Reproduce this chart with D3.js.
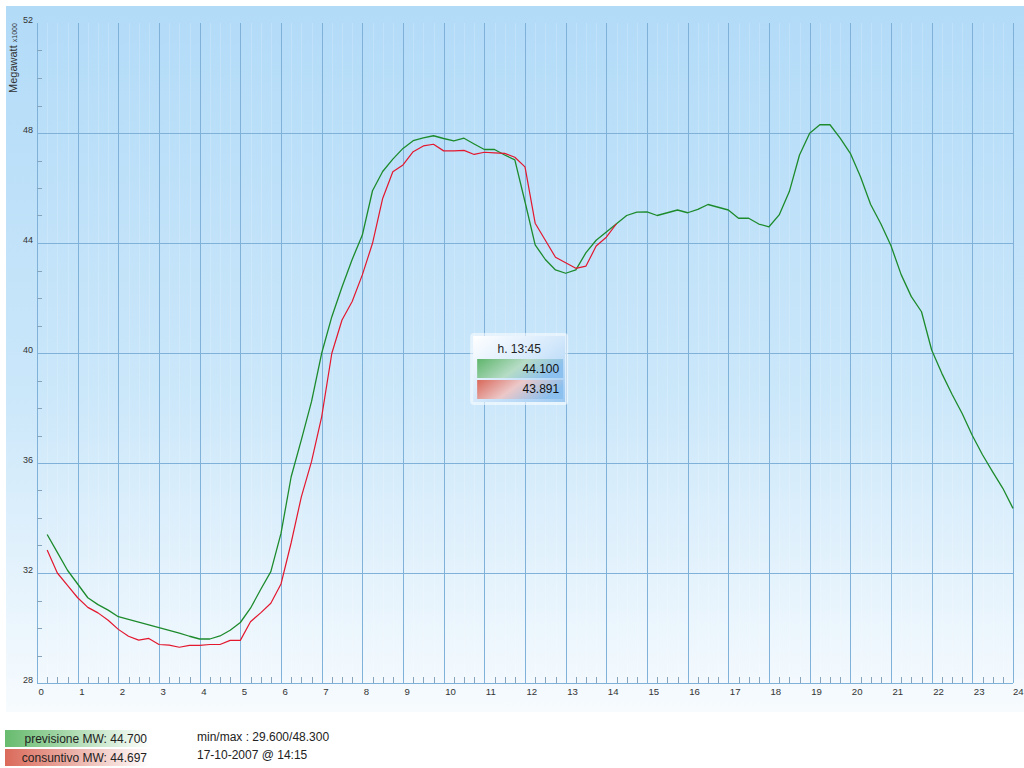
<!DOCTYPE html>
<html>
<head>
<meta charset="utf-8">
<script src="https://cdn.jsdelivr.net/npm/d3@7"></script>
<style>
html,body{margin:0;padding:0;background:#fff;}
svg{display:block;font-family:"Liberation Sans",Arial,Helvetica,sans-serif;}
</style>
</head>
<body>
<svg id="chart" width="1024" height="768"></svg>
<script>
// ---------- data ----------
// quarter-hour readings starting at 00:15
const forecastMW = [
  33.4, 32.75, 32.1, 31.6, 31.1, 30.85, 30.65, 30.41,
  30.31, 30.21, 30.11, 30.01, 29.91, 29.81, 29.7, 29.6,
  29.6, 29.71, 29.92, 30.2, 30.72, 31.4, 32.05, 33.44,
  35.5, 36.84, 38.23, 39.99, 41.32, 42.4, 43.4, 44.29,
  45.9, 46.6, 47.05, 47.44, 47.72, 47.82, 47.9, 47.8,
  47.71, 47.81, 47.6, 47.4, 47.4, 47.2, 47.02, 45.5,
  43.93, 43.4, 43.02, 42.9, 43.02, 43.65, 44.1, 44.4,
  44.7, 45.0, 45.12, 45.13, 45.0, 45.1, 45.2, 45.1,
  45.22, 45.4, 45.3, 45.2, 44.9, 44.9, 44.69, 44.59,
  45.02, 45.87, 47.2, 47.99, 48.3, 48.3, 47.81, 47.26,
  46.41, 45.4, 44.7, 43.9, 42.85, 42.05, 41.5, 40.11,
  39.26, 38.5, 37.8, 37.0, 36.3, 35.68, 35.08, 34.35
];
const actualMW = [
  32.84, 32.0, 31.55, 31.1, 30.75, 30.55, 30.28, 29.95,
  29.7, 29.56, 29.62, 29.4, 29.38, 29.3, 29.37, 29.37,
  29.4, 29.4, 29.55, 29.55, 30.23, 30.55, 30.9, 31.6,
  33.1, 34.77, 36.05, 37.68, 39.99, 41.2, 41.87, 42.84,
  43.99, 45.62, 46.59, 46.84, 47.32, 47.53, 47.59, 47.35,
  47.35, 47.37, 47.22, 47.3, 47.28, 47.26, 47.12, 46.77,
  44.72, 44.1, 43.48, 43.28, 43.08, 43.16, 43.89, 44.21,
  44.7
];
const hourTicks = [0,1,2,3,4,5,6,7,8,9,10,11,12,13,14,15,16,17,18,19,20,21,22,23,24];
const yTicks = [28,32,36,40,44,48,52];
const tooltipHour = 13.75;
const tooltipLabel = "h. 13:45";
const tooltipValues = ["44.100","43.891"];
const legendLabels = ["previsione MW: 44.700","consuntivo MW: 44.697"];
const infoLines = ["min/max : 29.600/48.300","17-10-2007 @ 14:15"];

// ---------- setup ----------
const svg = d3.select("#chart");
const x = d3.scaleLinear().domain([0,24]).range([37,1013]);
const y = d3.scaleLinear().domain([28,52]).range([683,23]);
const defs = svg.append("defs");

const bg = defs.append("linearGradient").attr("id","bg").attr("x1",0).attr("y1",0).attr("x2",0).attr("y2",1);
bg.append("stop").attr("offset","0%").attr("stop-color","#b2dbf8");
bg.append("stop").attr("offset","55%").attr("stop-color","#cbe7fa");
bg.append("stop").attr("offset","100%").attr("stop-color","#f7fbfe");
svg.append("rect").attr("x",6).attr("y",6).attr("width",1018).attr("height",706).attr("fill","url(#bg)");

// minor vertical grid (quarter hours), very faint
const quarters = d3.range(0, 96).map(i => i/4).filter(h => h % 1 !== 0);
svg.append("g").selectAll("line").data(quarters).join("line")
  .attr("x1", d => Math.round(x(d))+0.5).attr("x2", d => Math.round(x(d))+0.5)
  .attr("y1", y(52)).attr("y2", y(28))
  .attr("stroke","rgba(255,255,255,0.16)").attr("stroke-width",1);

// major grid
svg.append("g").selectAll("line").data(hourTicks).join("line")
  .attr("x1", d => Math.round(x(d))+0.5).attr("x2", d => Math.round(x(d))+0.5)
  .attr("y1", y(52)).attr("y2", y(28))
  .attr("stroke","#80b2d9").attr("stroke-width",1);
svg.append("g").selectAll("line").data(yTicks.filter(v => v < 52)).join("line")
  .attr("x1", x(0)).attr("x2", x(24))
  .attr("y1", d => Math.round(y(d))+0.5).attr("y2", d => Math.round(y(d))+0.5)
  .attr("stroke","#80b2d9").attr("stroke-width",1);

// x axis: labels and quarter-hour ticks
const xAxis = d3.axisBottom(x).tickValues(hourTicks).tickSize(0).tickFormat(d3.format("d"));
const gx = svg.append("g").attr("transform",`translate(0,${y(28)})`).call(xAxis);
gx.select(".domain").remove();
gx.selectAll("text").attr("font-size",9.6).attr("fill","#333").attr("text-anchor","start")
  .attr("dx",d => d === 24 ? "-0.5" : "1").attr("dy","0.95em")
  .attr("font-family","\"Liberation Sans\",Arial,sans-serif");
svg.append("g").selectAll("line").data(quarters).join("line")
  .attr("x1", d => Math.round(x(d))+0.5).attr("x2", d => Math.round(x(d))+0.5)
  .attr("y1", y(28)-6).attr("y2", y(28))
  .attr("stroke","#86a4bb").attr("stroke-width",1);

// y axis labels and minor ticks
const yAxis = d3.axisLeft(y).tickValues(yTicks).tickSize(0).tickFormat(d3.format("d"));
const gy = svg.append("g").attr("transform",`translate(${x(0)-4},0)`).call(yAxis);
gy.select(".domain").remove();
gy.selectAll("text").attr("font-size",9).attr("fill","#333").attr("dy","-0.05em").attr("x",0)
  .attr("font-family","\"Liberation Sans\",Arial,sans-serif");
const yMinor = d3.range(29, 52).filter(v => v % 4 !== 0);
svg.append("g").selectAll("line").data(yMinor).join("line")
  .attr("x1", x(0)).attr("x2", x(0)+5)
  .attr("y1", d => Math.round(y(d))+0.5).attr("y2", d => Math.round(y(d))+0.5)
  .attr("stroke","#86a4bb").attr("stroke-width",1);

// axis title
const title = svg.append("text").attr("transform","translate(17,93) rotate(-90)")
  .attr("font-size",11).attr("fill","#333");
title.append("tspan").text("Megawatt ");
title.append("tspan").attr("font-size",7).text("x1000");

// ---------- lines ----------
const line = d3.line().x((d,i) => x((i+1)/4)).y(d => y(d));
svg.append("path").datum(forecastMW).attr("d", line)
  .attr("fill","none").attr("stroke","#1d8b2c").attr("stroke-width",1.3).attr("stroke-linejoin","round");
svg.append("path").datum(actualMW).attr("d", line)
  .attr("fill","none").attr("stroke","#e3172e").attr("stroke-width",1.2).attr("stroke-linejoin","round");

// ---------- tooltip ----------
const tipG = defs.append("linearGradient").attr("id","tipbg").attr("x1",0).attr("y1",0).attr("x2",1).attr("y2",1);
tipG.append("stop").attr("offset","0%").attr("stop-color","#ffffff");
tipG.append("stop").attr("offset","50%").attr("stop-color","#d3e8fb");
tipG.append("stop").attr("offset","100%").attr("stop-color","#9cc9f2");
const gG = defs.append("linearGradient").attr("id","tipgreen").attr("x1",0).attr("y1",0).attr("x2",1).attr("y2",0.3);
gG.append("stop").attr("offset","0%").attr("stop-color","#5fb56b");
gG.append("stop").attr("offset","55%").attr("stop-color","#b6dcc6");
gG.append("stop").attr("offset","100%").attr("stop-color","#8cc0ee");
const rG = defs.append("linearGradient").attr("id","tipred").attr("x1",0).attr("y1",0).attr("x2",1).attr("y2",0.3);
rG.append("stop").attr("offset","0%").attr("stop-color","#d9685a");
rG.append("stop").attr("offset","50%").attr("stop-color","#ecc8c8");
rG.append("stop").attr("offset","100%").attr("stop-color","#8cc0ee");
const tipX = x(tooltipHour) - 123, tipY = 336;
const tip = svg.append("g").attr("transform",`translate(${tipX},${tipY})`);
tip.append("rect").attr("x",-3).attr("y",-3).attr("width",98).attr("height",72).attr("rx",4)
  .attr("fill","rgba(255,255,255,0.55)");
tip.append("rect").attr("width",92).attr("height",66).attr("fill","url(#tipbg)");
tip.append("text").attr("x",46).attr("y",17).attr("text-anchor","middle").attr("font-size",12)
  .attr("fill","#222").text(tooltipLabel);
tip.append("rect").attr("x",4).attr("y",23).attr("width",86).attr("height",19).attr("fill","url(#tipgreen)");
tip.append("rect").attr("x",4).attr("y",44).attr("width",86).attr("height",19).attr("fill","url(#tipred)");
tip.selectAll("text.v").data(tooltipValues).join("text").attr("class","v")
  .attr("x",86).attr("y",(d,i) => 37 + i*20).attr("text-anchor","end").attr("font-size",12)
  .attr("fill","#111").text(d => d);

// ---------- legend ----------
const lgG = defs.append("linearGradient").attr("id","lggreen").attr("x1",0).attr("x2",1);
lgG.append("stop").attr("offset","0%").attr("stop-color","#67bb6e");
lgG.append("stop").attr("offset","100%").attr("stop-color","#ffffff");
const lgR = defs.append("linearGradient").attr("id","lgred").attr("x1",0).attr("x2",1);
lgR.append("stop").attr("offset","0%").attr("stop-color","#da6a5a");
lgR.append("stop").attr("offset","100%").attr("stop-color","#ffffff");
const leg = svg.append("g");
leg.selectAll("rect").data(legendLabels).join("rect")
  .attr("x",5).attr("y",(d,i) => 730 + i*19).attr("width",145).attr("height",17)
  .attr("fill",(d,i) => i === 0 ? "url(#lggreen)" : "url(#lgred)");
leg.selectAll("text").data(legendLabels).join("text")
  .attr("x",147).attr("y",(d,i) => 743 + i*19).attr("text-anchor","end")
  .attr("font-size",12).attr("fill","#222").text(d => d);
svg.append("g").selectAll("text").data(infoLines).join("text")
  .attr("x",197).attr("y",(d,i) => 741 + i*18).attr("font-size",12).attr("fill","#222").text(d => d);
</script>
</body>
</html>
